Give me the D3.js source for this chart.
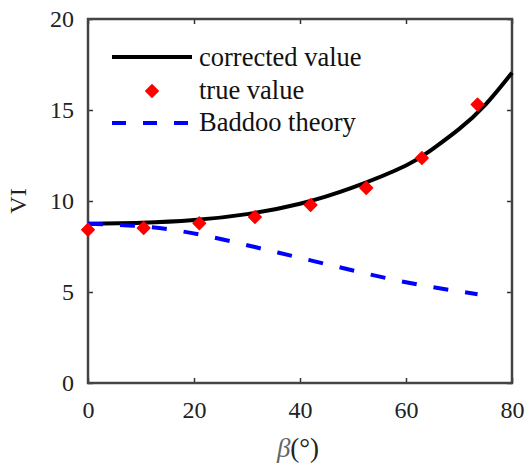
<!DOCTYPE html>
<html>
<head>
<meta charset="utf-8">
<script src="https://cdn.jsdelivr.net/npm/d3@7"></script>
<style>
  body { margin: 0; background: #fff; }
  text { font-family: "Liberation Serif", "Times New Roman", serif; }
</style>
</head>
<body>
<div id="chart"></div>
<script>
// measured points ("true value")
var trueBeta = [0, 10.5, 21, 31.5, 42, 52.5, 63, 73.5];
var trueVI = [8.42, 8.52, 8.78, 9.12, 9.78, 10.72, 12.36, 15.3];

// Baddoo theory, same beta values
var baddooVI = [8.75, 8.6, 8.16, 7.47, 6.74, 6.01, 5.37, 4.88];

// corrected curve
var fitBeta = [0, 10, 20, 30, 40, 50, 60, 65, 70, 75, 80];
var correctedVI = [8.75, 8.8, 8.95, 9.28, 9.85, 10.75, 11.95, 12.85, 13.95, 15.3, 17.05];

var xTicks = [0, 20, 40, 60, 80];
var yTicks = [0, 5, 10, 15, 20];

var legendLabels = ["corrected value", "true value", "Baddoo theory"];

var chart_width = 526, chart_height = 468;
var plotLeft = 88, plotRight = 512, plotTop = 19, plotBottom = 383;

var svg = d3.select("#chart")
  .append("svg")
  .attr("width", chart_width)
  .attr("height", chart_height);

var x = d3.scaleLinear().domain([0, 80]).range([plotLeft, plotRight]);
var y = d3.scaleLinear().domain([0, 20]).range([plotBottom, plotTop]);

// axes, ticks pointing inward
var xAxis = svg.append("g")
  .attr("transform", "translate(0," + plotBottom + ")")
  .call(d3.axisBottom(x).tickValues(xTicks).tickSizeInner(-5).tickSizeOuter(0).tickPadding(18));

var xTop = svg.append("g")
  .attr("transform", "translate(0," + plotTop + ")")
  .call(d3.axisTop(x).tickValues(xTicks).tickSizeInner(-5).tickSizeOuter(0).tickFormat(""));

var yAxis = svg.append("g")
  .attr("transform", "translate(" + plotLeft + ",0)")
  .call(d3.axisLeft(y).tickValues(yTicks).tickSizeInner(-5).tickSizeOuter(0).tickPadding(14));

var yRight = svg.append("g")
  .attr("transform", "translate(" + plotRight + ",0)")
  .call(d3.axisRight(y).tickValues(yTicks).tickSizeInner(-5).tickSizeOuter(0).tickFormat(""));

[xAxis, xTop, yAxis, yRight].forEach(function(g) {
  g.select(".domain").remove();
  g.selectAll(".tick line").attr("stroke", "#333").attr("stroke-width", 1.5);
  g.selectAll(".tick text")
    .attr("font-family", "Liberation Serif")
    .attr("font-size", "24px")
    .attr("fill", "#222");
});

// frame
svg.append("rect")
  .attr("x", plotLeft)
  .attr("y", plotTop)
  .attr("width", plotRight - plotLeft)
  .attr("height", plotBottom - plotTop)
  .attr("fill", "none")
  .attr("stroke", "#444")
  .attr("stroke-width", 2.5);

// corrected value curve
var line = d3.line()
  .x(function(d) { return x(d[0]); })
  .y(function(d) { return y(d[1]); })
  .curve(d3.curveNatural);

svg.append("path")
  .datum(fitBeta.map(function(b, i) { return [b, correctedVI[i]]; }))
  .attr("d", line)
  .attr("fill", "none")
  .attr("stroke", "#000")
  .attr("stroke-width", 4);

// Baddoo theory
svg.append("path")
  .datum(trueBeta.map(function(b, i) { return [b, baddooVI[i]]; }))
  .attr("d", line)
  .attr("fill", "none")
  .attr("stroke", "#0000ff")
  .attr("stroke-width", 4)
  .attr("stroke-dasharray", "15,17");

// true value points
var diamond = d3.symbol().type(d3.symbolSquare).size(78);

svg.selectAll(".pt")
  .data(trueBeta.map(function(b, i) { return [b, trueVI[i]]; }))
  .enter()
  .append("path")
  .attr("class", "pt")
  .attr("d", diamond)
  .attr("transform", function(d) {
    return "translate(" + x(d[0]) + "," + y(d[1]) + ") rotate(45)";
  })
  .attr("fill", "#ff0000")
  .attr("stroke", "#ff0000")
  .attr("stroke-width", 1.5)
  .attr("stroke-linejoin", "round");

// legend
var legend = svg.append("g");

legend.append("line")
  .attr("x1", 112).attr("x2", 192)
  .attr("y1", 57).attr("y2", 57)
  .attr("stroke", "#000")
  .attr("stroke-width", 4);

legend.append("path")
  .attr("d", diamond)
  .attr("transform", "translate(152,91) rotate(45)")
  .attr("fill", "#ff0000")
  .attr("stroke", "#ff0000")
  .attr("stroke-width", 1.5)
  .attr("stroke-linejoin", "round");

legend.append("line")
  .attr("x1", 112).attr("x2", 192)
  .attr("y1", 123).attr("y2", 123)
  .attr("stroke", "#0000ff")
  .attr("stroke-width", 4)
  .attr("stroke-dasharray", "14,17");

legend.selectAll(".lbl")
  .data(legendLabels)
  .enter()
  .append("text")
  .attr("class", "lbl")
  .attr("x", 199)
  .attr("y", function(d, i) { return 66 + i * 32.5; })
  .attr("font-size", "26.5px")
  .attr("fill", "#111")
  .text(function(d) { return d; });

// axis titles
var xt = svg.append("text")
  .attr("x", 298)
  .attr("y", 457)
  .attr("text-anchor", "middle")
  .attr("font-size", "27px")
  .attr("fill", "#222");
xt.append("tspan").attr("font-style", "italic").attr("fill", "#666").text("β");
xt.append("tspan").text("(°)");

svg.append("text")
  .attr("transform", "translate(26,201) rotate(-90)")
  .attr("text-anchor", "middle")
  .attr("font-size", "24px")
  .attr("fill", "#222")
  .text("VI");
</script>
</body>
</html>
